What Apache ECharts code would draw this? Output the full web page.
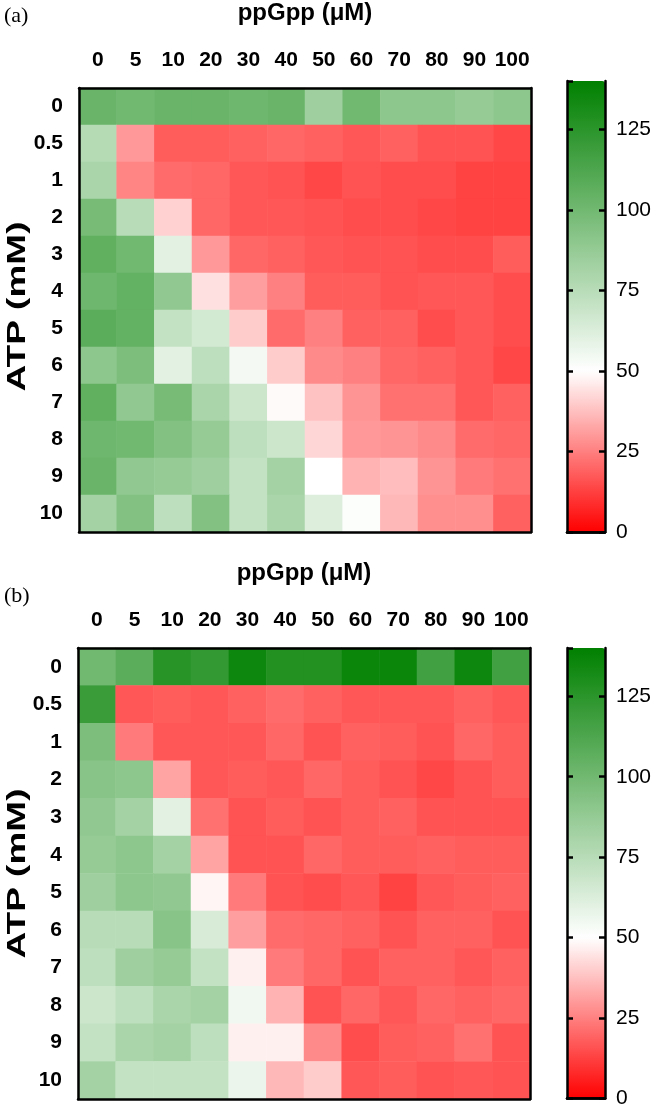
<!DOCTYPE html>
<html><head><meta charset="utf-8">
<script src="https://cdn.jsdelivr.net/npm/echarts@6/dist/echarts.min.js"></script>
<style>html,body{margin:0;padding:0;background:#fff}#c{width:661px;height:1109px}</style>
</head><body><div id="c"></div>
<script>
// ---- data ----
const ppGpp = ['0','5','10','20','30','40','50','60','70','80','90','100'];
const atp = ['0','0.5','1','2','3','4','5','6','7','8','9','10'];
const colorbarTicks = [0, 25, 50, 75, 100, 125];
const scaleMin = 0, scaleMid = 50, scaleMax = 140;

// panel (a): one row per ATP level, columns = ppGpp levels
const panelA = [
  [103,100,103,103,101,103, 84,100, 90, 90, 87, 90],
  [ 76, 30, 18, 18, 19, 20, 19, 17, 19, 16, 16, 14],
  [ 80, 26, 21, 20, 17, 16, 14, 16, 15, 15, 13, 13],
  [ 98, 75, 41, 20, 17, 17, 16, 15, 15, 14, 13, 13],
  [106,100, 60, 30, 20, 19, 17, 16, 16, 15, 15, 18],
  [101,105, 89, 44, 31, 25, 18, 18, 16, 17, 17, 15],
  [108,105, 71, 66, 40, 21, 25, 19, 19, 15, 17, 15],
  [ 90, 96, 60, 73, 54, 40, 27, 25, 20, 19, 17, 14],
  [106, 89, 98, 80, 68, 49, 38, 29, 22, 22, 17, 19],
  [101,100, 94, 87, 73, 68, 42, 30, 29, 27, 21, 20],
  [103, 89, 87, 84, 71, 82, 50, 35, 37, 29, 24, 22],
  [ 82, 94, 73, 94, 71, 80, 62, 51, 36, 28, 28, 19]
];
// panel (b)
const panelB = [
  [100,108,126,122,135,128,128,136,136,117,135,117],
  [120, 17, 18, 17, 19, 21, 19, 17, 17, 17, 19, 17],
  [ 96, 24, 17, 17, 17, 20, 16, 19, 18, 16, 20, 18],
  [ 92, 90, 32, 17, 18, 17, 20, 18, 16, 14, 16, 18],
  [ 89, 82, 60, 22, 16, 18, 16, 18, 19, 16, 16, 16],
  [ 87, 90, 82, 32, 16, 16, 20, 18, 18, 19, 18, 18],
  [ 84, 90, 89, 48, 24, 16, 15, 17, 13, 17, 18, 19],
  [ 75, 75, 92, 64, 31, 21, 20, 19, 16, 19, 19, 16],
  [ 73, 84, 87, 71, 47, 24, 20, 16, 19, 19, 17, 19],
  [ 68, 73, 80, 82, 55, 35, 16, 20, 17, 20, 19, 20],
  [ 71, 80, 82, 73, 47, 47, 27, 15, 18, 19, 22, 16],
  [ 82, 71, 71, 71, 57, 36, 40, 17, 18, 16, 17, 16]
];

// ---- colour scale: red -> white (at 50) -> green ----
function hex(r,g,b){return '#'+[r,g,b].map(v=>Math.round(v).toString(16).padStart(2,'0')).join('');}
const stops = [];
for (let v = scaleMin; v <= scaleMax; v += 10) {
  if (v <= scaleMid) { const f = v/scaleMid; stops.push(hex(255, 255*f, 255*f)); }
  else { const f = (v-scaleMid)/(scaleMax-scaleMid); stops.push(hex(255*(1-f), 255-127*f, 255*(1-f))); }
}

function toCells(rows){
  const out=[];
  rows.forEach((row,r)=>row.forEach((v,c)=>out.push([c,r,v])));
  return out;
}

const FONT = '"Liberation Sans", Arial, Helvetica, sans-serif';
const panels = [
  {top: 81, left: 79, data: panelA, tag: '(a)', tagTop: 5},
  {top: 648, left: 78, data: panelB, tag: '(b)', tagTop: 585}
];
const W = 452, H = 451, CB_LEFT = 567, CB_W = 38;

const grid=[], xAxis=[], yAxis=[], series=[], visualMap=[], graphic=[];
panels.forEach((p,i)=>{
  const g = grid.length;
  grid.push({left:p.left, top:p.top, width:W, height:H});
  grid.push({left:CB_LEFT, top:p.top, width:CB_W, height:H});
  const lineStyle = {color:'#000', width:2.5};
  // heatmap axes
  const xi = xAxis.length;
  xAxis.push({type:'category', gridIndex:g, position:'top', data:ppGpp, z:10,
    axisLine:{show:true, lineStyle}, axisTick:{show:false}, splitLine:{show:false},
    axisLabel:{margin:17, fontFamily:FONT, fontWeight:'bold', fontSize:21, color:'#000', interval:0},
    name:'ppGpp (\u03bcM)', nameLocation:'middle', nameGap:63,
    nameTextStyle:{fontFamily:FONT, fontWeight:'bold', fontSize:24, color:'#000'}});
  xAxis.push({type:'category', gridIndex:g, position:'bottom', data:ppGpp, z:10,
    axisLine:{show:true, lineStyle}, axisTick:{show:false}, axisLabel:{show:false}, splitLine:{show:false}});
  const yi = yAxis.length;
  yAxis.push({type:'category', gridIndex:g, position:'left', inverse:true, data:atp, z:10,
    axisLine:{show:true, lineStyle}, axisTick:{show:false}, splitLine:{show:false},
    axisLabel:{margin:16, fontFamily:FONT, fontWeight:'bold', fontSize:21, color:'#000', interval:0}});
  yAxis.push({type:'category', gridIndex:g, position:'right', inverse:true, data:atp, z:10,
    axisLine:{show:true, lineStyle}, axisTick:{show:false}, axisLabel:{show:false}, splitLine:{show:false}});
  series.push({type:'heatmap', xAxisIndex:xi, yAxisIndex:yi, data:toCells(p.data),
    itemStyle:{borderWidth:0}, emphasis:{disabled:true}, progressive:0});
  // colour bar axes
  xAxis.push({type:'category', gridIndex:g+1, position:'top', data:[''], z:10,
    axisLine:{show:true, lineStyle}, axisTick:{show:false}, axisLabel:{show:false}});
  xAxis.push({type:'category', gridIndex:g+1, position:'bottom', data:[''], z:10,
    axisLine:{show:true, lineStyle}, axisTick:{show:false}, axisLabel:{show:false}});
  yAxis.push({type:'value', gridIndex:g+1, position:'left', min:scaleMin, max:scaleMax, interval:25, z:10,
    axisLine:{show:true, lineStyle}, axisTick:{show:true, inside:true, length:6, lineStyle:{color:'#000', width:2.5}},
    axisLabel:{show:false}, splitLine:{show:false}});
  yAxis.push({type:'value', gridIndex:g+1, position:'right', min:scaleMin, max:scaleMax, interval:25, z:10,
    axisLine:{show:true, lineStyle}, axisTick:{show:true, inside:true, length:6, lineStyle:{color:'#000', width:2.5}},
    axisLabel:{show:true, showMaxLabel:false, margin:11, fontFamily:FONT, fontSize:21, color:'#000',
      formatter:v=>colorbarTicks.includes(v)?String(v):''},
    splitLine:{show:false}});
  visualMap.push({type:'continuous', seriesIndex:i, min:scaleMin, max:scaleMax, calculable:false,
    orient:'vertical', left:CB_LEFT, top:p.top, itemWidth:CB_W, itemHeight:H, padding:0,
    showLabel:false, text:null, hoverLink:false, inRange:{color:stops}, z:4});
  graphic.push({type:'text', left:4, top:p.tagTop, z:20,
    style:{text:p.tag, font:'22px "Liberation Serif", "Times New Roman", serif', fill:'#000'}});
  // y-axis title, drawn tall and narrow as in the figure
  graphic.push({type:'text', x:18, y:p.top + H/2, rotation:Math.PI/2, scaleX:1, scaleY:0.72, z:20,
    style:{text:'ATP (mM)', font:'bold 37px "Liberation Sans", Arial, sans-serif', fill:'#000',
      align:'center', verticalAlign:'middle'}});
});

const chart = echarts.init(document.getElementById('c'), null, {renderer:'canvas'});
chart.setOption({animation:false, backgroundColor:'#fff', grid, xAxis, yAxis, series, visualMap, graphic});
</script></body></html>
